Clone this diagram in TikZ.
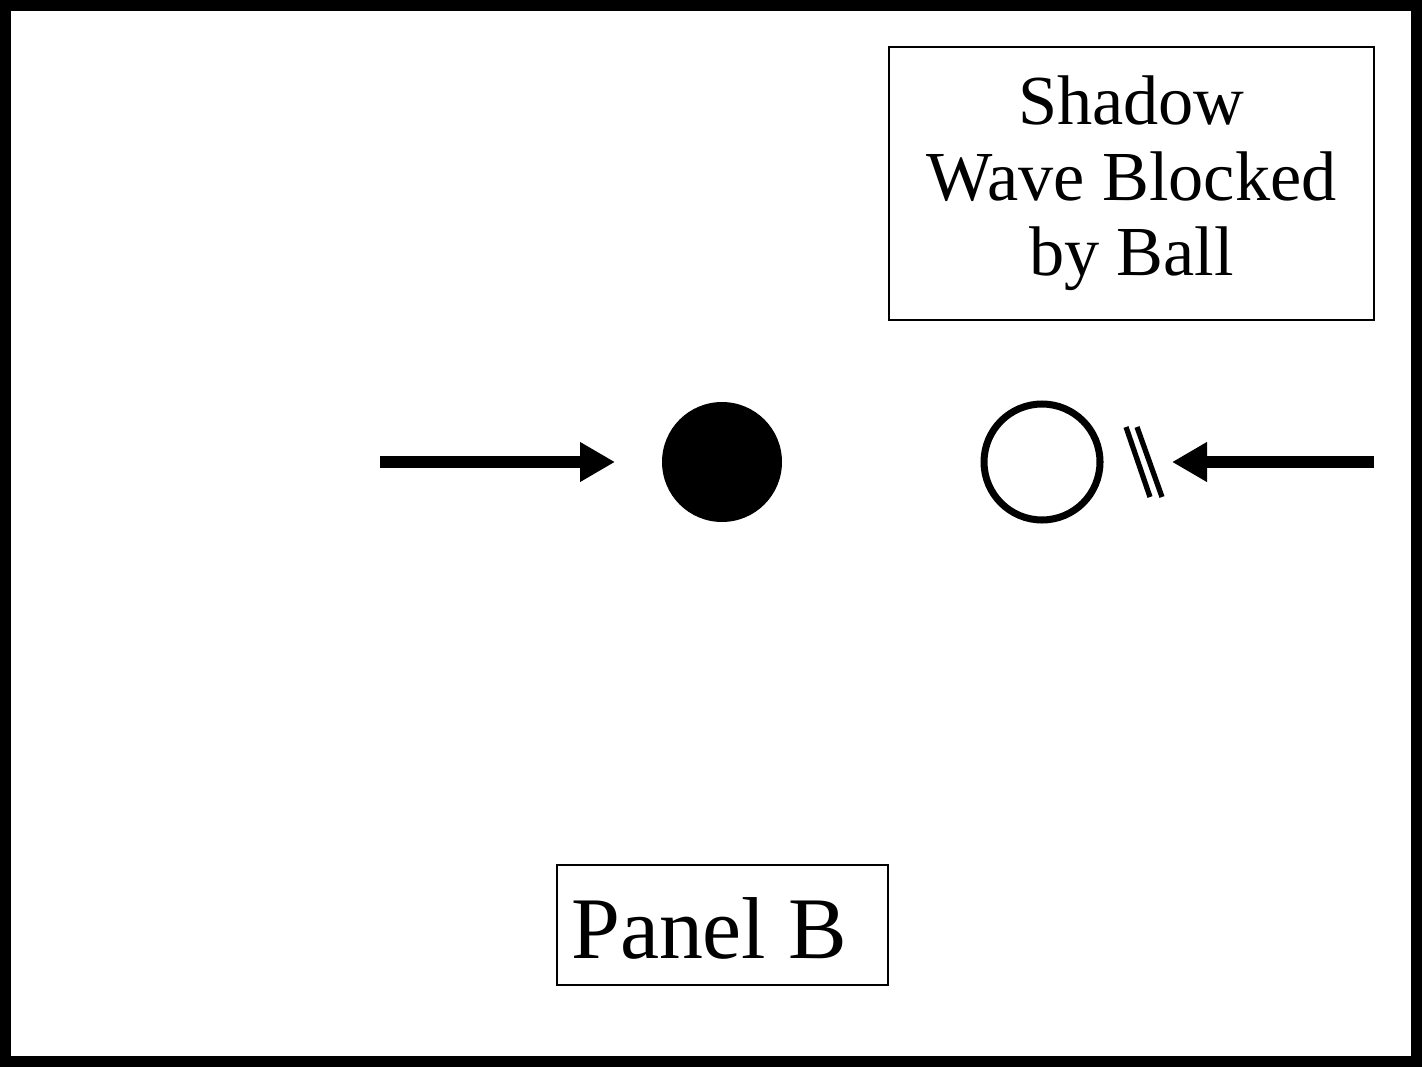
\documentclass[tikz,border=0pt]{standalone}
\usepackage{fontspec}
\setmainfont{Liberation Serif}
\usetikzlibrary{arrows.meta, positioning}
\tikzset{
  label box/.style={draw, line width=1pt, inner sep=0pt, align=center},
  ball/.style={circle, minimum size=2.4cm, inner sep=0pt},
  wave/.style={line width=7pt, -{Triangle[length=0.7cm, width=0.75cm]}}
}
\begin{document}
\begin{tikzpicture}[x=0.02cm, y=-0.02cm]
\useasboundingbox (0,0) rectangle (1422,1067);
\draw[line width=8pt] (4,4) rectangle (1418,1063);

\node[label box, minimum width=9.7cm, minimum height=5.46cm, font=\fontsize{40}{43}\selectfont] (shadow) at (1131.5,183.5) {Shadow\\Wave Blocked\\by Ball};
\node[label box, minimum width=6.62cm, minimum height=2.4cm] (panel) at (722.5,925) {};
\node[font=\fontsize{50}{55}\selectfont, anchor=west] (paneltext) at (565,928) {Panel B};

\node[ball, fill=black] (solid) at (722,462) {};
\node[ball, draw, line width=4pt, minimum size=2.32cm] (hollow) at (1042,462) {};

\coordinate (leftstart) at (380,462);
\coordinate (leftend) at (615,462);
\coordinate (rightstart) at (1374,462);
\coordinate (rightend) at (1172,462);
\draw[wave] (leftstart) -- (leftend);
\draw[wave] (rightstart) -- (rightend);

\draw[line width=3pt] (1126,427) -- (1150,497);
\draw[line width=3pt] (1137,427) -- (1162,497);
\end{tikzpicture}
\end{document}
